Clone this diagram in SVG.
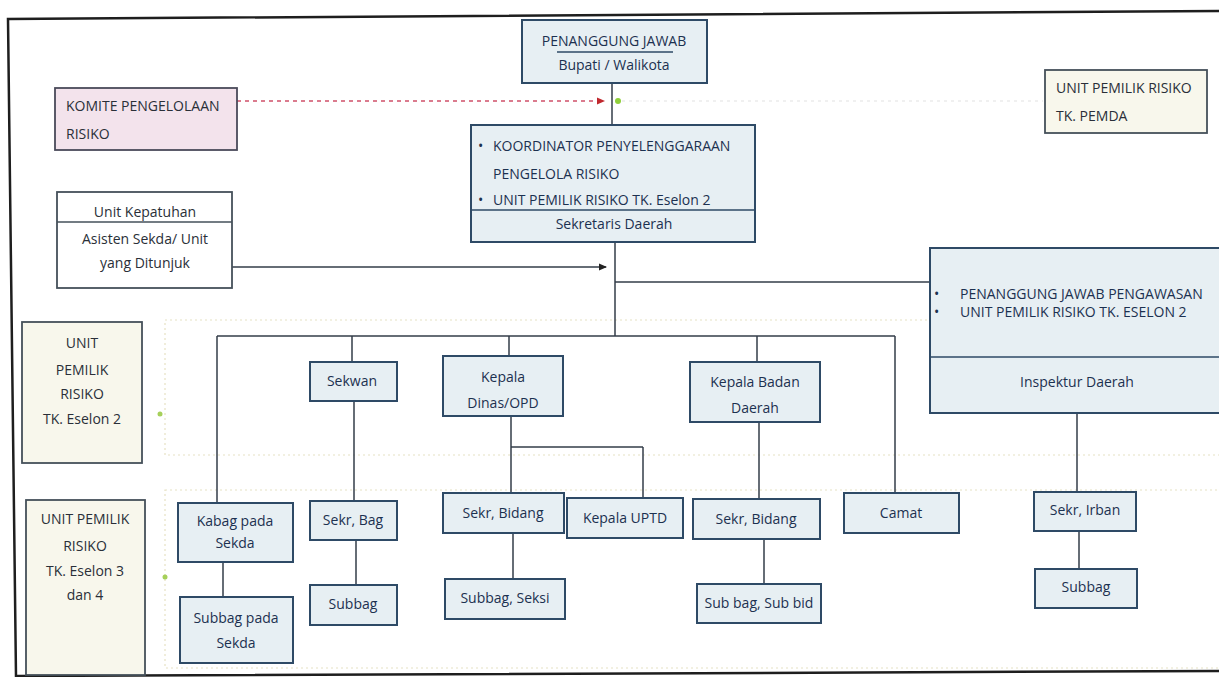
<svg xmlns="http://www.w3.org/2000/svg" width="1219" height="677" viewBox="0 0 1219 677">
<defs>
<style>
.bx{fill:#e7eff3;stroke:#2e4a66;stroke-width:2}
.yb{fill:#f8f7ec;stroke:#45505a;stroke-width:1.8}
.wb{fill:#ffffff;stroke:#45505a;stroke-width:1.8}
.pk{fill:#f3e3ec;stroke:#4a4a5a;stroke-width:1.8}
text{font-family:"Open Sans","Liberation Sans",sans-serif;font-size:14px;fill:#1c3150}
.d{fill:#2a2f38}
.c{text-anchor:middle}
.ln{stroke:#333d48;stroke-width:1.5;fill:none}
.faint{stroke:#e6e1c4;stroke-width:1.2;fill:none;stroke-dasharray:2 3}
</style>
<marker id="ah" markerWidth="8" markerHeight="8" refX="7" refY="4" orient="auto" markerUnits="userSpaceOnUse">
<path d="M0,0.5 L8,4 L0,7.5 Z" fill="#222"/>
</marker>
<marker id="ahr" markerWidth="8" markerHeight="8" refX="7" refY="4" orient="auto" markerUnits="userSpaceOnUse">
<path d="M0,0.5 L8,4 L0,7.5 Z" fill="#c0282e"/>
</marker>
</defs>
<rect width="1219" height="677" fill="#ffffff"/>
<!-- frame -->
<path d="M1222 11 L8 19 L16 676 L1222 671" fill="none" stroke="#1e1e1e" stroke-width="2.5"/>
<!-- faint region outlines -->
<rect class="faint" x="165" y="320" width="1060" height="135"/>
<rect class="faint" x="165" y="490" width="1060" height="178"/>

<g id="connectors">
<line class="ln" x1="612" y1="83" x2="612" y2="125"/>
<line x1="237" y1="101" x2="604" y2="101" stroke="#d0506a" stroke-width="1.5" stroke-dasharray="4 4" marker-end="url(#ahr)"/>
<line x1="622" y1="101" x2="1043" y2="101" stroke="#e2e2e2" stroke-width="1.2" stroke-dasharray="3 4"/>
<circle cx="618" cy="101" r="3" fill="#8fcf3a"/>
<line class="ln" x1="232" y1="267" x2="606" y2="267" marker-end="url(#ah)"/>
<line class="ln" x1="615" y1="242" x2="615" y2="336"/>
<line class="ln" x1="615" y1="282" x2="930" y2="282"/>
<line class="ln" x1="217" y1="336" x2="895" y2="336"/>
<line class="ln" x1="217" y1="336" x2="217" y2="503" stroke="#8a93a0"/>
<line class="ln" x1="352" y1="336" x2="352" y2="362"/>
<line class="ln" x1="509" y1="336" x2="509" y2="356"/>
<line class="ln" x1="757" y1="336" x2="757" y2="362"/>
<line class="ln" x1="895" y1="336" x2="895" y2="493"/>
<line class="ln" x1="354" y1="401" x2="354" y2="501"/>
<line class="ln" x1="511" y1="416" x2="511" y2="493"/>
<line class="ln" x1="511" y1="447" x2="643" y2="447"/>
<line class="ln" x1="643" y1="447" x2="643" y2="498"/>
<line class="ln" x1="759" y1="422" x2="759" y2="499"/>
<line class="ln" x1="1077" y1="413" x2="1077" y2="492"/>
<line class="ln" x1="223" y1="562" x2="223" y2="597"/>
<line class="ln" x1="356" y1="540" x2="356" y2="585"/>
<line class="ln" x1="513" y1="533" x2="513" y2="579"/>
<line class="ln" x1="764" y1="539" x2="764" y2="584"/>
<line class="ln" x1="1079" y1="531" x2="1079" y2="569"/>
<circle cx="160" cy="414" r="2.5" fill="#a6d05a"/>
<circle cx="165" cy="577" r="2.5" fill="#a6d05a"/>
</g>

<g id="penanggung-jawab">
<rect class="bx" x="522" y="20" width="185" height="63"/>
<text class="c" x="614" y="46">PENANGGUNG JAWAB</text>
<line x1="557" y1="52" x2="673" y2="52" stroke="#2e4a66" stroke-width="1.5"/>
<text class="c" x="614" y="70">Bupati / Walikota</text>
</g>

<g id="komite">
<rect class="pk" x="55" y="88" width="182" height="62"/>
<text class="d" x="66" y="111">KOMITE PENGELOLAAN</text>
<text class="d" x="66" y="139">RISIKO</text>
</g>

<g id="pemda">
<rect class="yb" x="1045" y="70" width="162" height="63"/>
<text class="d" x="1056" y="93">UNIT PEMILIK RISIKO</text>
<text class="d" x="1056" y="121">TK. PEMDA</text>
</g>

<g id="koordinator">
<rect class="bx" x="471" y="125" width="284" height="117"/>
<line x1="471" y1="210" x2="755" y2="210" stroke="#2e4a66" stroke-width="1.5"/>
<text x="478" y="151">•</text>
<text x="493" y="151">KOORDINATOR PENYELENGGARAAN</text>
<text x="493" y="179">PENGELOLA RISIKO</text>
<text x="478" y="205">•</text>
<text x="493" y="205">UNIT PEMILIK RISIKO TK. Eselon 2</text>
<text class="c" x="614" y="229">Sekretaris Daerah</text>
</g>

<g id="unit-kepatuhan">
<rect class="wb" x="57" y="192" width="175" height="96"/>
<line x1="57" y1="222" x2="232" y2="222" stroke="#45505a" stroke-width="1.5"/>
<text class="c d" x="145" y="217">Unit Kepatuhan</text>
<text class="c d" x="145" y="244">Asisten Sekda/ Unit</text>
<text class="c d" x="145" y="268">yang Ditunjuk</text>
</g>

<g id="inspektur">
<rect class="bx" x="930" y="248" width="295" height="165"/>
<line x1="930" y1="357" x2="1225" y2="357" stroke="#2e4a66" stroke-width="1.5"/>
<text x="934" y="299">•</text>
<text x="960" y="299">PENANGGUNG JAWAB PENGAWASAN</text>
<text x="934" y="317">•</text>
<text x="960" y="317">UNIT PEMILIK RISIKO TK. ESELON 2</text>
<text class="c" x="1077" y="387">Inspektur Daerah</text>
</g>

<g id="eselon2">
<rect class="yb" x="22" y="322" width="120" height="141"/>
<text class="c d" x="82" y="348">UNIT</text>
<text class="c d" x="82" y="375">PEMILIK</text>
<text class="c d" x="82" y="399">RISIKO</text>
<text class="c d" x="82" y="424">TK. Eselon 2</text>
</g>

<g id="eselon34">
<rect class="yb" x="26" y="500" width="119" height="175"/>
<text class="c d" x="85" y="524">UNIT PEMILIK</text>
<text class="c d" x="85" y="551">RISIKO</text>
<text class="c d" x="85" y="576">TK. Eselon 3</text>
<text class="c d" x="85" y="600">dan 4</text>
</g>

<g id="sekwan">
<rect class="bx" x="310" y="362" width="87" height="39"/>
<text class="c" x="352" y="386">Sekwan</text>
</g>

<g id="kepala-dinas">
<rect class="bx" x="443" y="356" width="120" height="60"/>
<text class="c" x="503" y="382">Kepala</text>
<text class="c" x="503" y="408">Dinas/OPD</text>
</g>

<g id="kepala-badan">
<rect class="bx" x="690" y="362" width="130" height="60"/>
<text class="c" x="755" y="387">Kepala Badan</text>
<text class="c" x="755" y="413">Daerah</text>
</g>

<g id="kabag">
<rect class="bx" x="178" y="503" width="115" height="59"/>
<text class="c" x="235" y="526">Kabag pada</text>
<text class="c" x="235" y="548">Sekda</text>
</g>

<g id="subbag-sekda">
<rect class="bx" x="180" y="597" width="113" height="66"/>
<text class="c" x="236" y="623">Subbag pada</text>
<text class="c" x="236" y="648">Sekda</text>
</g>

<g id="sekr-bag">
<rect class="bx" x="310" y="501" width="87" height="39"/>
<text class="c" x="353" y="525">Sekr, Bag</text>
</g>

<g id="subbag-1">
<rect class="bx" x="310" y="585" width="87" height="40"/>
<text class="c" x="353" y="609">Subbag</text>
</g>

<g id="sekr-bidang-1">
<rect class="bx" x="443" y="493" width="121" height="40"/>
<text class="c" x="503" y="518">Sekr, Bidang</text>
</g>

<g id="kepala-uptd">
<rect class="bx" x="567" y="498" width="116" height="40"/>
<text class="c" x="625" y="523">Kepala UPTD</text>
</g>

<g id="subbag-seksi">
<rect class="bx" x="445" y="579" width="120" height="40"/>
<text class="c" x="505" y="603">Subbag, Seksi</text>
</g>

<g id="sekr-bidang-2">
<rect class="bx" x="693" y="499" width="127" height="40"/>
<text class="c" x="756" y="524">Sekr, Bidang</text>
</g>

<g id="subbag-subbid">
<rect class="bx" x="697" y="584" width="124" height="39"/>
<text class="c" x="759" y="608">Sub bag, Sub bid</text>
</g>

<g id="camat">
<rect class="bx" x="844" y="493" width="115" height="40"/>
<text class="c" x="901" y="518">Camat</text>
</g>

<g id="sekr-irban">
<rect class="bx" x="1034" y="492" width="102" height="39"/>
<text class="c" x="1085" y="515">Sekr, Irban</text>
</g>

<g id="subbag-2">
<rect class="bx" x="1035" y="569" width="102" height="39"/>
<text class="c" x="1086" y="592">Subbag</text>
</g>
</svg>
